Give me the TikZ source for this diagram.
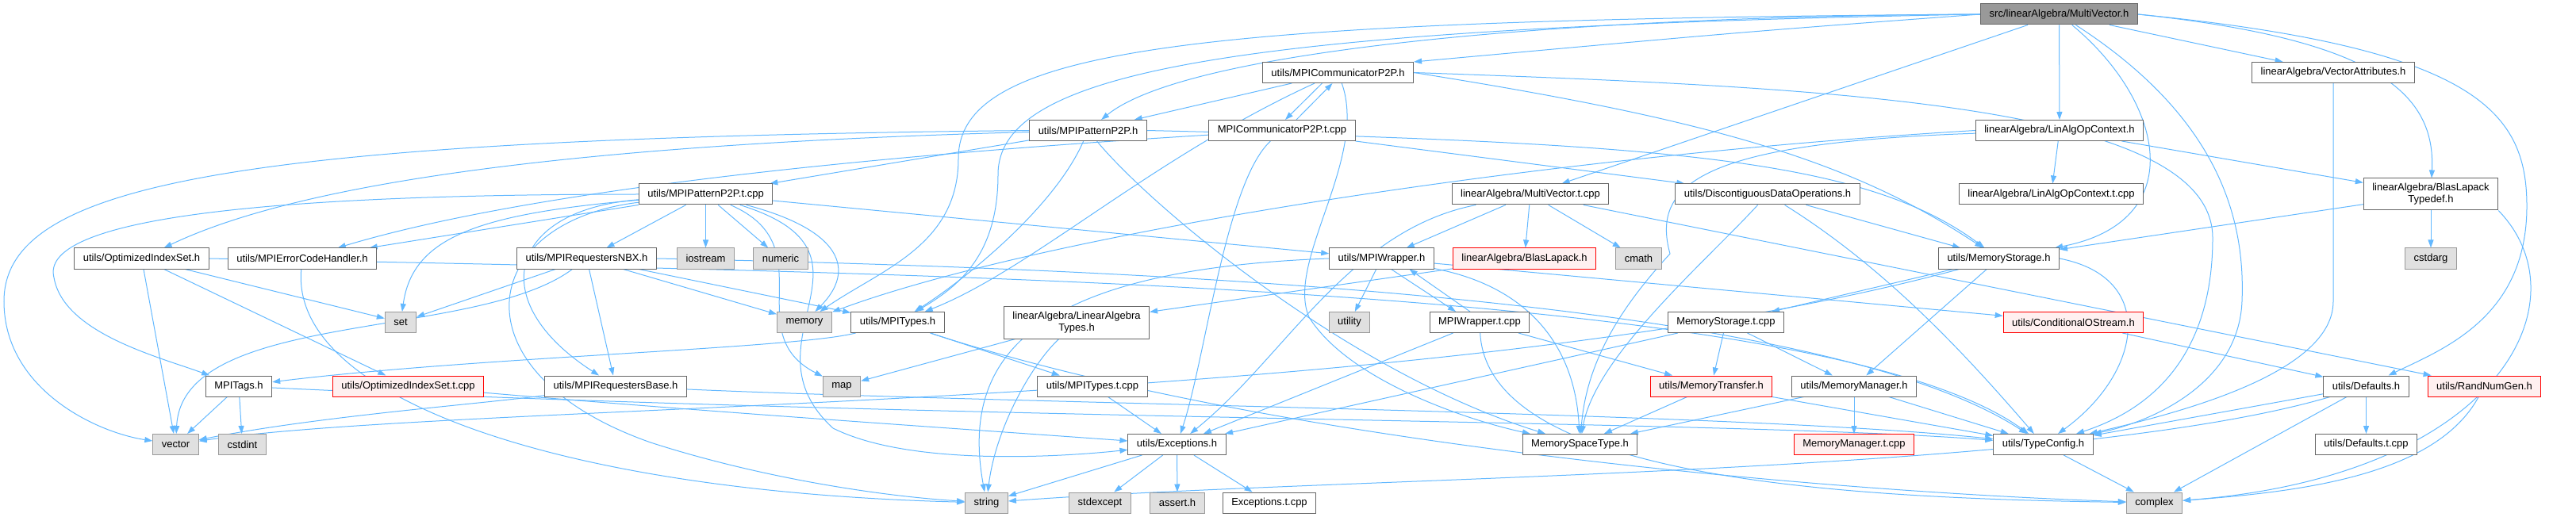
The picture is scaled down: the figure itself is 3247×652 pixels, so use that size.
\documentclass[tikz,border=0pt]{standalone}
\usepackage{fontspec}
\setmainfont{Liberation Sans}
\usetikzlibrary{arrows.meta, backgrounds}
\definecolor{edgeblue}{HTML}{63B8FF}
\definecolor{boxgrey}{HTML}{666666}
\definecolor{sysgrey}{HTML}{999999}
\definecolor{sysfill}{HTML}{E0E0E0}
\definecolor{rootfill}{HTML}{999999}
\definecolor{misfill}{HTML}{FFF0F0}
\definecolor{misborder}{HTML}{FF0000}

\begin{document}
\begin{tikzpicture}[
    x=1pt, y=-1pt,
    every node/.style={font=\fontsize{13}{15}\selectfont},
    file/.style={draw=boxgrey, fill=white, line width=1pt, inner xsep=11pt,
                 inner ysep=0pt, minimum height=26pt, align=center},
    root/.style={file, fill=rootfill},
    sys/.style={file, draw=sysgrey, fill=sysfill},
    missing/.style={file, draw=misborder, fill=misfill},
    arr/.style={draw=edgeblue, line width=1pt, -{Triangle[length=10pt, width=7pt]}}
]
    \useasboundingbox (0,0) rectangle (3247,652);

    % Row 0: the file itself
    \node[root] (mv) at (2595.5, 18) {src/linearAlgebra/MultiVector.h};

    % Row 1
    \node[file] (ch) at (1686.5, 91.5) {utils/MPICommunicatorP2P.h};
    \node[file] (va) at (2941, 91.5) {linearAlgebra/VectorAttributes.h};

    % Row 2
    \node[file] (ph) at (1371.5, 164.5) {utils/MPIPatternP2P.h};
    \node[file] (ct) at (1616, 164.5) {MPICommunicatorP2P.t.cpp};
    \node[file] (lac) at (2596, 164.5) {linearAlgebra/LinAlgOpContext.h};

    % Row 3
    \node[file] (pt) at (889.5, 245) {utils/MPIPatternP2P.t.cpp};
    \node[file] (mvt) at (1929, 245) {linearAlgebra/MultiVector.t.cpp};
    \node[file] (ddo) at (2228, 245) {utils/DiscontiguousDataOperations.h};
    \node[file] (lact) at (2585.5, 245) {linearAlgebra/LinAlgOpContext.t.cpp};
    \node[file, minimum height=40pt] (blt) at (3064, 245) {linearAlgebra/BlasLapack\\Typedef.h};

    % Row 4
    \node[file] (ois) at (178.5, 326) {utils/OptimizedIndexSet.h};
    \node[file] (ech) at (381, 326) {utils/MPIErrorCodeHandler.h};
    \node[file] (nbx) at (739.5, 326) {utils/MPIRequestersNBX.h};
    \node[sys] (ios) at (889.5, 326) {iostream};
    \node[sys] (num) at (984, 326) {numeric};
    \node[file] (wr) at (1741.5, 326) {utils/MPIWrapper.h};
    \node[missing] (bl) at (1921.5, 326) {linearAlgebra/BlasLapack.h};
    \node[sys] (cmath) at (2065.5, 326) {cmath};
    \node[file] (ms) at (2519.5, 326) {utils/MemoryStorage.h};
    \node[sys] (cstdarg) at (3064, 326) {cstdarg};

    % Row 5
    \node[sys] (set) at (505, 406.5) {set};
    \node[sys] (memory) at (1014, 406.5) {memory};
    \node[file] (types) at (1131.5, 406.5) {utils/MPITypes.h};
    \node[file, minimum height=41pt] (lat) at (1357, 406.5) {linearAlgebra/LinearAlgebra\\Types.h};
    \node[sys] (utility) at (1701, 406.5) {utility};
    \node[file] (wrt) at (1865, 406.5) {MPIWrapper.t.cpp};
    \node[file] (mst) at (2175.5, 406.5) {MemoryStorage.t.cpp};
    \node[missing] (cos) at (2613.5, 406.5) {utils/ConditionalOStream.h};

    % Row 6
    \node[file] (tags) at (301, 487) {MPITags.h};
    \node[missing] (oist) at (514.5, 487) {utils/OptimizedIndexSet.t.cpp};
    \node[file] (rb) at (776, 487) {utils/MPIRequestersBase.h};
    \node[sys] (map) at (1061, 487) {map};
    \node[file] (typest) at (1377, 487) {utils/MPITypes.t.cpp};
    \node[missing] (mt) at (2157, 487) {utils/MemoryTransfer.h};
    \node[file] (mm) at (2337, 487) {utils/MemoryManager.h};
    \node[file] (def) at (2982.5, 487) {utils/Defaults.h};
    \node[missing] (rng) at (3131.5, 487) {utils/RandNumGen.h};

    % Row 7
    \node[sys] (vector) at (221.5, 560.5) {vector};
    \node[sys] (cstdint) at (305.5, 560.5) {cstdint};
    \node[file] (exc) at (1483.5, 560.5) {utils/Exceptions.h};
    \node[file] (mspace) at (1991.5, 560.5) {MemorySpaceType.h};
    \node[missing] (mmt) at (2337, 560.5) {MemoryManager.t.cpp};
    \node[file] (tc) at (2575.5, 560.5) {utils/TypeConfig.h};
    \node[file] (deft) at (2982.5, 560.5) {utils/Defaults.t.cpp};

    % Row 8
    \node[sys] (string) at (1243.5, 634) {string};
    \node[sys] (stdexcept) at (1386.5, 634) {stdexcept};
    \node[sys] (assert) at (1484, 634) {assert.h};
    \node[file] (exct) at (1600, 634) {Exceptions.t.cpp};
    \node[sys] (complex) at (2715.5, 634) {complex};

    \begin{scope}[on background layer]
    % MultiVector.h
    \draw[arr] (mv.west) .. controls (2000,20) and (1500,60) .. (ph);
    \draw[arr] (mv.west) .. controls (2200,40) .. (ch.north east);
    \draw[arr] (mv.west) .. controls (1500,25) and (1208,60) .. (1208,200) .. controls (1208,310) and (1110,340) .. (memory);
    \draw[arr] (mv.west) .. controls (1550,35) and (1258,90) .. (1258,220) .. controls (1258,320) and (1210,360) .. (types);
    \draw[arr] (mv) -- (mvt);
    \draw[arr] (mv) -- (lac);
    \draw[arr] (mv) -- (va);
    \draw[arr] (mv.east) .. controls (3000,50) and (3070,120) .. (blt);
    \draw[arr] (mv.east) .. controls (3120,60) and (3185,140) .. (3185,260) .. controls (3185,400) and (3080,440) .. (def);
    \draw[arr] (mv) .. controls (2730,130) and (2760,280) .. (ms);
    \draw[arr] (mv) .. controls (2800,150) and (2830,280) .. (2826,380) .. controls (2822,480) and (2720,530) .. (tc);

    % MPICommunicatorP2P.h and .t.cpp
    \draw[arr] (ch) -- (ph);
    \draw[arr] ([xshift=-20pt]ch.south) -- ([xshift=4pt]ct.north);
    \draw[arr] ([xshift=18pt]ct.north) -- ([xshift=-7pt]ch.south);
    \draw[arr] (ch) .. controls (1450,200) and (1300,340) .. (types);
    \draw[arr] (ch) .. controls (1725,200) and (1620,330) .. (1650,400) .. controls (1700,480) and (1850,530) .. (mspace);
    \draw[arr] (ch.east) .. controls (2300,110) and (2789,130) .. (2789,300) .. controls (2789,460) and (2700,520) .. (tc);
    \draw[arr] (ch.east) .. controls (2150,150) and (2330,200) .. (ms);
    \draw[arr] (ct) .. controls (1200,190) and (700,230) .. (ech);
    \draw[arr] (ct) .. controls (1545,230) and (1520,450) .. (exc);
    \draw[arr] (ct.south east) -- (ddo);

    % MPIPatternP2P.h
    \draw[arr] (ph.west) .. controls (300,175) and (5,230) .. (5,380) .. controls (5,490) and (120,545) .. (vector);
    \draw[arr] (ph) .. controls (800,180) and (400,220) .. (ois);
    \draw[arr] (ph) -- (pt);
    \draw[arr] (ph) .. controls (1330,260) and (1220,350) .. (types);
    \draw[arr] (ph) .. controls (1450,260) and (1700,470) .. (mspace);
    \draw[arr] (ph.east) .. controls (2100,180) and (2350,200) .. (ms);

    % MPIPatternP2P.t.cpp
    \draw[arr] (pt.west) .. controls (300,245) and (50,280) .. (68,350) .. controls (80,420) and (200,450) .. (tags);
    \draw[arr] (pt) -- (ech);
    \draw[arr] (pt) .. controls (600,270) and (520,300) .. (set);
    \draw[arr] (pt) -- (nbx);
    \draw[arr] (pt) .. controls (640,265) and (610,380) .. (rb);
    \draw[arr] (pt) .. controls (600,280) and (570,470) .. (820,558) .. controls (950,600) and (1100,625) .. (string);
    \draw[arr] (pt) -- (ios);
    \draw[arr] (pt) -- (num);
    \draw[arr] (pt) .. controls (1040,310) and (930,420) .. (map);
    \draw[arr] (pt) .. controls (1060,290) and (1080,340) .. (memory);
    \draw[arr] (pt) .. controls (1130,320) and (930,430) .. (1050,540) .. controls (1150,590) and (1350,575) .. (exc);
    \draw[arr] (pt) -- (wr);

    % OptimizedIndexSet.h, MPIErrorCodeHandler.h
    \draw[arr] (ois) -- (set);
    \draw[arr] (ois) -- (vector);
    \draw[arr] (ois) -- (oist);
    \draw[arr] (ois.east) .. controls (1200,345) and (2300,360) .. (tc);
    \draw[arr] (ech) .. controls (365,500) and (700,620) .. (string);

    % MPIRequestersNBX.h
    \draw[arr] (nbx) -- (set);
    \draw[arr] (nbx) .. controls (600,430) and (230,390) .. (vector);
    \draw[arr] (nbx) -- (rb);
    \draw[arr] (nbx) -- (types);
    \draw[arr] (nbx) -- (memory);
    \draw[arr] (nbx.east) .. controls (1500,340) and (2300,380) .. (tc);

    % MPITags.h, OptimizedIndexSet.t.cpp, MPIRequestersBase.h
    \draw[arr] (tags) -- (vector);
    \draw[arr] (tags) -- (cstdint);
    \draw[arr] (tags) .. controls (1200,530) and (2200,530) .. (tc);
    \draw[arr] (oist) .. controls (900,520) and (1200,540) .. (exc);
    \draw[arr] (rb) .. controls (600,510) and (400,525) .. (vector);
    \draw[arr] (rb) .. controls (1300,510) and (2200,520) .. (tc);

    % MPITypes.h, LinearAlgebraTypes.h
    \draw[arr] (types) .. controls (1000,440) and (600,450) .. (tags);
    \draw[arr] (types) -- (typest);
    \draw[arr] (types) .. controls (1600,560) and (2300,620) .. (complex);
    \draw[arr] (typest) -- (exc);
    \draw[arr] (lat) -- (map);
    \draw[arr] (lat) .. controls (1300,460) and (1255,540) .. (string);

    % MPIWrapper.h and .t.cpp
    \draw[arr] (wr) -- (utility);
    \draw[arr] ([xshift=12pt]wr.south) -- ([xshift=-30pt]wrt.north);
    \draw[arr] ([xshift=-12pt]wrt.north) -- ([xshift=35pt]wr.south);
    \draw[arr] (wr) .. controls (1920,360) and (1985,430) .. (mspace);
    \draw[arr] (wr.west) .. controls (1300,340) and (1210,450) .. (string);
    \draw[arr] (wr) -- (cos);
    \draw[arr] (wrt) -- (mt);
    \draw[arr] (wrt) -- (exc);
    \draw[arr] (wrt) .. controls (1875,600) and (2300,628) .. (complex);

    % MultiVector.t.cpp, BlasLapack.h
    \draw[arr] (mvt) -- (wr);
    \draw[arr] (mvt) -- (bl);
    \draw[arr] (mvt) -- (cmath);
    \draw[arr] (mvt) -- (rng);
    \draw[arr] (mvt) .. controls (1700,290) and (1620,450) .. (exc);
    \draw[arr] (bl) -- (lat);

    % DiscontiguousDataOperations.h
    \draw[arr] (ddo) .. controls (2150,330) and (2010,450) .. (mspace);
    \draw[arr] (ddo) .. controls (2380,340) and (2480,450) .. (tc);
    \draw[arr] (ddo) -- (ms);

    % MemoryStorage.h and .t.cpp
    \draw[arr] (ms) -- (mst);
    \draw[arr] (ms) -- (mm);
    \draw[arr] (ms.east) .. controls (2720,350) and (2700,470) .. (tc);
    \draw[arr] (ms) .. controls (1800,520) and (600,505) .. (vector);
    \draw[arr] (mst) -- (mt);
    \draw[arr] (mst) -- (mm);
    \draw[arr] (mst) -- (exc);

    % MemoryTransfer.h, MemoryManager.h
    \draw[arr] (mt) -- (mspace);
    \draw[arr] (mt) -- (tc);
    \draw[arr] (mm) -- (mspace);
    \draw[arr] (mm) -- (mmt);
    \draw[arr] (mm) -- (tc);

    % LinAlgOpContext.h, BlasLapackTypedef.h, VectorAttributes.h
    \draw[arr] (lac) -- (lact);
    \draw[arr] (lac) -- (blt);
    \draw[arr] (lac.west) .. controls (1900,200) and (1300,300) .. (memory);
    \draw[arr] (lac) .. controls (2150,180) and (2080,230) .. (2105,320) .. controls (2050,380) and (2000,450) .. (mspace);
    \draw[arr] (blt) -- (ms);
    \draw[arr] (blt) -- (cstdarg);
    \draw[arr] (blt.south east) .. controls (3260,380) and (3150,600) .. (complex);
    \draw[arr] (va.south) -- (2941,380) .. controls (2941,470) and (2750,520) .. (tc);

    % ConditionalOStream.h, Defaults.h, RandNumGen.h, TypeConfig.h
    \draw[arr] (cos) -- (def);
    \draw[arr] (def) -- (tc);
    \draw[arr] (def) .. controls (2600,600) and (1700,600) .. (string);
    \draw[arr] (def) -- (complex);
    \draw[arr] (def) -- (deft);
    \draw[arr] (rng) .. controls (3070,600) and (2900,620) .. (complex);
    \draw[arr] (tc) -- (complex);

    % Exceptions.h
    \draw[arr] (exc) -- (string);
    \draw[arr] (exc) -- (stdexcept);
    \draw[arr] (exc) -- (assert);
    \draw[arr] (exc) -- (exct);
    \end{scope}
\end{tikzpicture}
\end{document}
